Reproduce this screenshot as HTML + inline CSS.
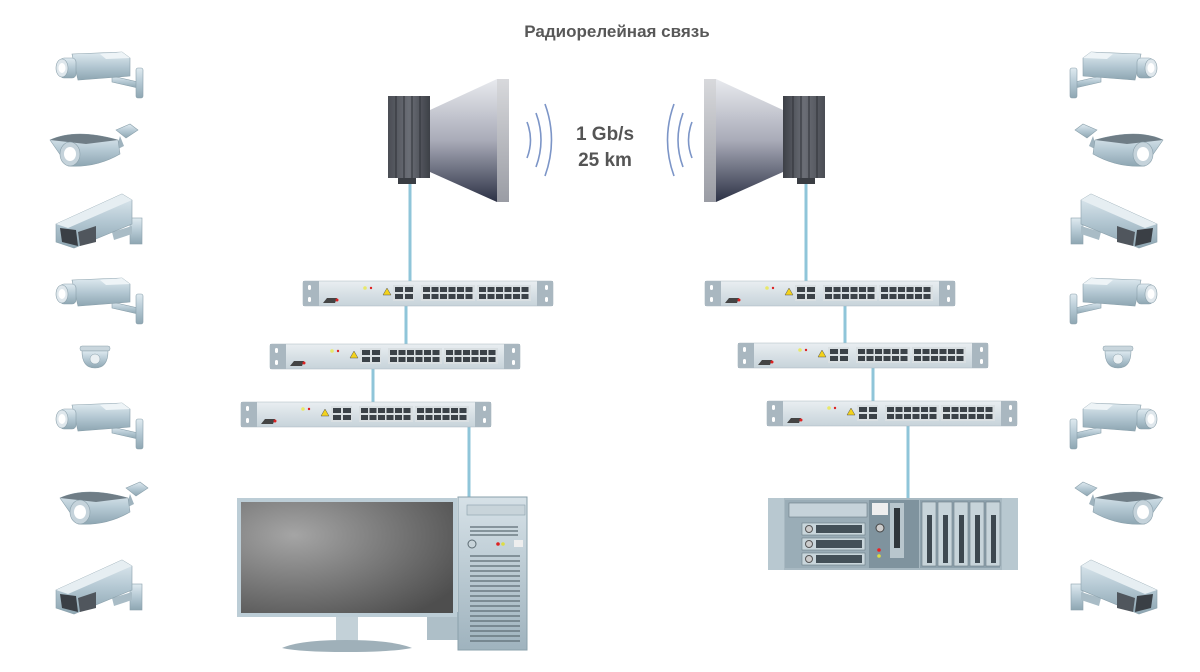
<!DOCTYPE html>
<html><head><meta charset="utf-8"><style>html,body{margin:0;padding:0;background:#fff}svg{display:block}</style></head>
<body>
<svg width="1200" height="672" viewBox="0 0 1200 672" xmlns="http://www.w3.org/2000/svg" font-family="Liberation Sans, DejaVu Sans, sans-serif">
<defs>
<linearGradient id="cam" x1="0" y1="0" x2="0" y2="1"><stop offset="0" stop-color="#dfeaf0"/><stop offset="0.5" stop-color="#b4c8d3"/><stop offset="1" stop-color="#8ea6b2"/></linearGradient>
<linearGradient id="horn" x1="0" y1="0" x2="0" y2="1"><stop offset="0" stop-color="#e8eaee"/><stop offset="0.5" stop-color="#a9abb8"/><stop offset="1" stop-color="#2c3145"/></linearGradient>
<linearGradient id="rim" x1="0" y1="0" x2="0" y2="1"><stop offset="0" stop-color="#d8d9dc"/><stop offset="1" stop-color="#9a9ca4"/></linearGradient>
<linearGradient id="box" x1="0" y1="0" x2="1" y2="0"><stop offset="0" stop-color="#4a4d54"/><stop offset="0.5" stop-color="#6b6e76"/><stop offset="1" stop-color="#3d4047"/></linearGradient>
<linearGradient id="sw" x1="0" y1="0" x2="0" y2="1"><stop offset="0" stop-color="#e9eef1"/><stop offset="1" stop-color="#c7d3da"/></linearGradient>
<radialGradient id="scr" cx="0.25" cy="0.3" r="0.9"><stop offset="0" stop-color="#a5a5a5"/><stop offset="1" stop-color="#4e4e4e"/></radialGradient>
<linearGradient id="metal" x1="0" y1="0" x2="0" y2="1"><stop offset="0" stop-color="#d6e1e7"/><stop offset="1" stop-color="#9fb3be"/></linearGradient>

<g id="switch">
 <rect x="0" y="0" width="250" height="25" rx="2" fill="url(#sw)" stroke="#aab8c0" stroke-width="0.6"/>
 <rect x="0" y="0" width="16" height="25" fill="#a9b7c0"/><rect x="234" y="0" width="16" height="25" fill="#a9b7c0"/>
 <rect x="5" y="4" width="3" height="5" rx="1.5" fill="#fff"/><rect x="5" y="16" width="3" height="5" rx="1.5" fill="#fff"/>
 <rect x="242" y="4" width="3" height="5" rx="1.5" fill="#fff"/><rect x="242" y="16" width="3" height="5" rx="1.5" fill="#fff"/>
 <circle cx="62" cy="7" r="1.8" fill="#e8e86a"/><circle cx="68" cy="7" r="1.2" fill="#d22"/>
 <path d="M80 14 L84 7 L88 14 Z" fill="#f3d21b" stroke="#555" stroke-width="0.5"/>
 <rect x="90" y="4" width="21" height="16" fill="#d9dfe2"/>
 <g fill="#3b4248"><rect x="92" y="6" width="8" height="5"/><rect x="102" y="6" width="8" height="5"/><rect x="92" y="13" width="8" height="5"/><rect x="102" y="13" width="8" height="5"/></g>
 <rect x="118" y="4" width="54" height="16" fill="#d9dfe2"/><rect x="174" y="4" width="54" height="16" fill="#d9dfe2"/>
 <g fill="#3b4248">
  <rect x="120" y="6" width="7" height="5"/><rect x="128.5" y="6" width="7" height="5"/><rect x="137" y="6" width="7" height="5"/><rect x="145.5" y="6" width="7" height="5"/><rect x="154" y="6" width="7" height="5"/><rect x="162.5" y="6" width="7" height="5"/>
  <rect x="120" y="13" width="7" height="5"/><rect x="128.5" y="13" width="7" height="5"/><rect x="137" y="13" width="7" height="5"/><rect x="145.5" y="13" width="7" height="5"/><rect x="154" y="13" width="7" height="5"/><rect x="162.5" y="13" width="7" height="5"/>
  <rect x="176" y="6" width="7" height="5"/><rect x="184.5" y="6" width="7" height="5"/><rect x="193" y="6" width="7" height="5"/><rect x="201.5" y="6" width="7" height="5"/><rect x="210" y="6" width="7" height="5"/><rect x="218.5" y="6" width="7" height="5"/>
  <rect x="176" y="13" width="7" height="5"/><rect x="184.5" y="13" width="7" height="5"/><rect x="193" y="13" width="7" height="5"/><rect x="201.5" y="13" width="7" height="5"/><rect x="210" y="13" width="7" height="5"/><rect x="218.5" y="13" width="7" height="5"/>
 </g>
 <path d="M20 22 L24 17 L34 17 L32 22 Z" fill="#444"/><circle cx="34" cy="19" r="1.5" fill="#d22"/>
</g>

<!-- box camera, faces left; origin top-left, ~95x55 -->
<g id="camA">
 <path d="M62 32 L88 38 L88 44 L62 38 Z" fill="url(#cam)" stroke="#8aa0ab" stroke-width="0.6"/>
 <rect x="86" y="24" width="7" height="30" rx="2" fill="url(#cam)" stroke="#8aa0ab" stroke-width="0.6"/>
 <path d="M22 10 L72 8 L80 14 L80 32 L28 36 Z" fill="url(#cam)" stroke="#8aa0ab" stroke-width="0.6"/>
 <path d="M50 10 L72 8 L80 14 L56 15 Z" fill="#eef4f7"/>
 <rect x="10" y="14" width="16" height="20" rx="4" fill="url(#cam)" stroke="#8aa0ab" stroke-width="0.6"/>
 <ellipse cx="12" cy="24" rx="6" ry="9" fill="#dfe7ec" stroke="#8aa0ab" stroke-width="0.6"/>
 <ellipse cx="12" cy="24" rx="3.5" ry="5" fill="#fff"/>
</g>
<g id="camB">
 <path d="M70 10 L84 4 L92 10 L80 18 Z" fill="url(#cam)" stroke="#8aa0ab" stroke-width="0.6"/>
 <path d="M74 16 L78 26 L70 30 Z" fill="#9fb3be"/>
 <path d="M4 20 Q30 8 72 20 L74 34 Q50 48 22 46 Z" fill="url(#cam)" stroke="#8aa0ab" stroke-width="0.6"/>
 <path d="M4 20 Q30 8 72 20 L40 24 Z" fill="#6f7d86"/>
 <ellipse cx="24" cy="34" rx="10" ry="12" fill="#c5d3db" stroke="#8aa0ab" stroke-width="0.6"/>
 <ellipse cx="24" cy="34" rx="6" ry="7" fill="#fff"/>
</g>
<g id="camC">
 <rect x="78" y="28" width="12" height="26" fill="url(#cam)" stroke="#8aa0ab" stroke-width="0.6"/>
 <path d="M60 42 L80 36 L80 44 L62 50 Z" fill="#a9bcc6"/>
 <path d="M4 34 L70 4 L80 10 L80 34 L22 58 L4 52 Z" fill="url(#cam)" stroke="#8aa0ab" stroke-width="0.6"/>
 <path d="M4 34 L70 4 L80 10 L16 38 Z" fill="#e6eef2"/>
 <path d="M8 38 L24 40 L26 56 L10 52 Z" fill="#3a3f45"/>
 <path d="M26 42 L44 36 L44 52 L28 56 Z" fill="#50565d"/>
</g>
<g id="camD">
 <rect x="2" y="4" width="30" height="5" rx="2" fill="#c9d6dd" stroke="#8aa0ab" stroke-width="0.5"/>
 <path d="M4 9 Q4 26 17 26 Q30 26 30 9 Z" fill="url(#cam)" stroke="#8aa0ab" stroke-width="0.6"/>
 <circle cx="17" cy="17" r="5" fill="#eaf0f3" stroke="#8aa0ab" stroke-width="0.5"/>
</g>
<g id="antenna">
 <path d="M430 110 L497 79 L497 202 L430 172 Z" fill="url(#horn)"/>
 <rect x="497" y="79" width="12" height="123" fill="url(#rim)"/>
 <rect x="388" y="96" width="42" height="82" fill="url(#box)"/>
 <g stroke="#2e3137" stroke-width="1"><line x1="396" y1="96" x2="396" y2="178"/><line x1="404" y1="96" x2="404" y2="178"/><line x1="412" y1="96" x2="412" y2="178"/><line x1="420" y1="96" x2="420" y2="178"/></g>
 <rect x="398" y="178" width="18" height="6" fill="#3a3d43"/>
</g>
</defs>

<text x="617" y="37" text-anchor="middle" font-size="17" font-weight="bold" fill="#585858">Радиорелейная связь</text>

<!-- cables -->
<g stroke="#8fc5d9" stroke-width="3">
 <line x1="410" y1="184" x2="410" y2="282"/><line x1="406" y1="306" x2="406" y2="344"/><line x1="373" y1="369" x2="373" y2="402"/><line x1="469" y1="427" x2="469" y2="498"/>
 <line x1="806" y1="184" x2="806" y2="282"/><line x1="845" y1="306" x2="845" y2="344"/><line x1="873" y1="368" x2="873" y2="402"/><line x1="908" y1="426" x2="908" y2="500"/>
</g>

<use href="#antenna"/>
<use href="#antenna" transform="translate(1213 0) scale(-1 1)"/>

<!-- waves -->
<g fill="none" stroke="#7c95c7" stroke-width="1.6">
 <path d="M527 122 Q534 140 527 158"/><path d="M536 113 Q546 140 536 167"/><path d="M545 104 Q558 140 545 176"/>
 <path d="M692 122 Q685 140 692 158"/><path d="M683 113 Q673 140 683 167"/><path d="M674 104 Q661 140 674 176"/>
</g>
<text x="605" y="140" text-anchor="middle" font-size="19" font-weight="bold" fill="#555">1 Gb/s</text>
<text x="605" y="166" text-anchor="middle" font-size="19" font-weight="bold" fill="#555">25 km</text>

<use href="#switch" x="303" y="281"/><use href="#switch" x="270" y="344"/><use href="#switch" x="241" y="402"/>
<use href="#switch" x="705" y="281"/><use href="#switch" x="738" y="343"/><use href="#switch" x="767" y="401"/>

<!-- PC -->
<rect x="427" y="612" width="36" height="28" fill="#aebfc8"/>
<rect x="458" y="497" width="69" height="153" fill="url(#metal)" stroke="#8aa0ab"/>
<rect x="467" y="505" width="58" height="10" fill="#c8d4da" stroke="#8aa0ab" stroke-width="0.6"/>
<g stroke="#5c6b73" stroke-width="1.2"><line x1="470" y1="527" x2="518" y2="527"/><line x1="470" y1="531" x2="518" y2="531"/><line x1="470" y1="535" x2="518" y2="535"/></g>
<circle cx="472" cy="544" r="4" fill="#c8d4da" stroke="#5c6b73"/><circle cx="498" cy="544" r="1.8" fill="#d22"/><circle cx="503" cy="544" r="1.8" fill="#dd4"/><rect x="514" y="540" width="9" height="7" fill="#eee"/>
<g stroke="#5c6b73" stroke-width="1.3">
<line x1="470" y1="556" x2="520" y2="556"/><line x1="470" y1="561" x2="520" y2="561"/><line x1="470" y1="566" x2="520" y2="566"/><line x1="470" y1="571" x2="520" y2="571"/><line x1="470" y1="576" x2="520" y2="576"/><line x1="470" y1="581" x2="520" y2="581"/><line x1="470" y1="586" x2="520" y2="586"/><line x1="470" y1="591" x2="520" y2="591"/><line x1="470" y1="596" x2="520" y2="596"/><line x1="470" y1="601" x2="520" y2="601"/><line x1="470" y1="606" x2="520" y2="606"/><line x1="470" y1="611" x2="520" y2="611"/><line x1="470" y1="616" x2="520" y2="616"/><line x1="470" y1="621" x2="520" y2="621"/><line x1="470" y1="626" x2="520" y2="626"/><line x1="470" y1="631" x2="520" y2="631"/><line x1="470" y1="636" x2="520" y2="636"/><line x1="470" y1="641" x2="520" y2="641"/></g>
<rect x="336" y="615" width="22" height="28" fill="#c3d1d8"/>
<path d="M282 648 Q300 640 346 640 Q392 640 412 648 Q392 652 346 652 Q300 652 282 648 Z" fill="#9fb0b9"/>
<rect x="237" y="498" width="220" height="119" fill="#bccdd6"/>
<rect x="241" y="502" width="212" height="111" fill="url(#scr)"/>

<!-- server -->
<rect x="768" y="498" width="250" height="72" fill="#a8b9c2"/>
<rect x="768" y="498" width="16" height="72" fill="#b8c8d0"/><rect x="1002" y="498" width="16" height="72" fill="#b8c8d0"/>
<rect x="785" y="500" width="84" height="68" fill="#9aadb7"/>
<rect x="789" y="503" width="78" height="14" fill="#c6d3da" stroke="#6c7e88" stroke-width="0.6"/>
<rect x="802" y="523" width="63" height="12" fill="#c9d6dc" stroke="#6c7e88" stroke-width="0.6"/><rect x="802" y="538" width="63" height="12" fill="#c9d6dc" stroke="#6c7e88" stroke-width="0.6"/><rect x="802" y="553" width="63" height="12" fill="#c9d6dc" stroke="#6c7e88" stroke-width="0.6"/>
<rect x="816" y="525" width="46" height="8" fill="#435058"/><rect x="816" y="540" width="46" height="8" fill="#435058"/><rect x="816" y="555" width="46" height="8" fill="#435058"/>
<circle cx="809" cy="529" r="3.5" fill="#ccc" stroke="#555"/><circle cx="809" cy="544" r="3.5" fill="#ccc" stroke="#555"/><circle cx="809" cy="559" r="3.5" fill="#ccc" stroke="#555"/>
<rect x="869" y="500" width="50" height="68" fill="#7f939e"/>
<rect x="872" y="503" width="16" height="12" fill="#eee"/><circle cx="880" cy="528" r="4" fill="#ccc" stroke="#444"/><circle cx="879" cy="550" r="1.8" fill="#e22"/><circle cx="879" cy="556" r="1.8" fill="#dd4"/>
<rect x="890" y="503" width="14" height="55" fill="#b8c6cd"/><rect x="894" y="508" width="6" height="40" fill="#2f363b"/>
<rect x="920" y="500" width="80" height="68" fill="#8ea2ad"/>
<g fill="#c7d4da" stroke="#6c7e88" stroke-width="0.6"><rect x="922" y="502" width="14" height="64"/><rect x="938" y="502" width="14" height="64"/><rect x="954" y="502" width="14" height="64"/><rect x="970" y="502" width="14" height="64"/><rect x="986" y="502" width="14" height="64"/></g>
<g fill="#3d4850"><rect x="927" y="515" width="5" height="48"/><rect x="943" y="515" width="5" height="48"/><rect x="959" y="515" width="5" height="48"/><rect x="975" y="515" width="5" height="48"/><rect x="991" y="515" width="5" height="48"/></g>

<!-- cameras left -->
<use href="#camA" x="50" y="44"/>
<use href="#camB" x="46" y="120"/>
<use href="#camC" x="52" y="190"/>
<use href="#camA" x="50" y="270"/>
<use href="#camD" x="78" y="342"/>
<use href="#camA" x="50" y="395"/>
<use href="#camB" x="56" y="478"/>
<use href="#camC" x="52" y="556"/>
<!-- cameras right (mirrored) -->
<g transform="translate(1213 0) scale(-1 1)">
<use href="#camA" x="50" y="44"/>
<use href="#camB" x="46" y="120"/>
<use href="#camC" x="52" y="190"/>
<use href="#camA" x="50" y="270"/>
<use href="#camD" x="78" y="342"/>
<use href="#camA" x="50" y="395"/>
<use href="#camB" x="46" y="478"/>
<use href="#camC" x="52" y="556"/>
</g>
</svg>
</body></html>
